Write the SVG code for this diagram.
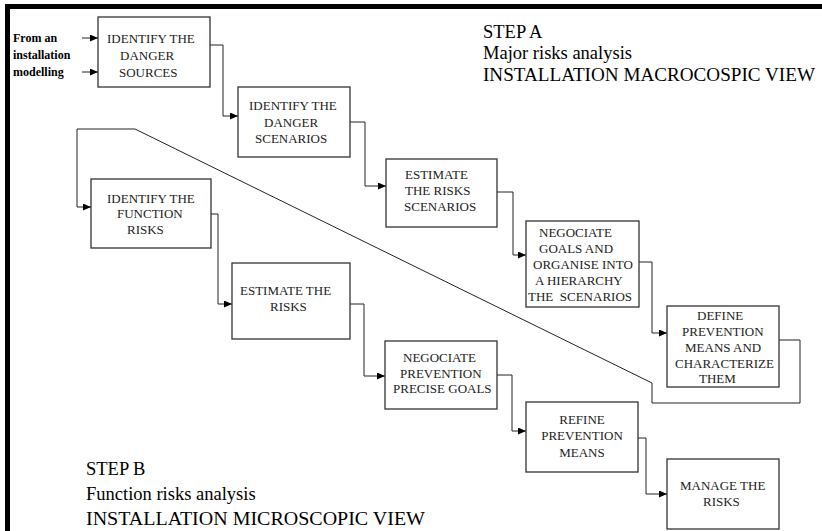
<svg xmlns="http://www.w3.org/2000/svg" width="822" height="531" viewBox="0 0 822 531">
<style>
.box{fill:#fff;stroke:#333;stroke-width:1.3}
.t{font-size:13px;fill:#222}
.s{font-size:18.5px;fill:#000}
.b{font-size:12px;font-weight:bold;fill:#000}
.c{fill:none;stroke:#222;stroke-width:1}
</style>
<defs>
<marker id="ah" markerWidth="9" markerHeight="8" refX="8" refY="3.5" orient="auto" markerUnits="userSpaceOnUse">
<path d="M0,0 L8,3.5 L0,7 z" fill="#000"/>
</marker>
</defs>
<rect x="0" y="0" width="822" height="531" fill="#fff"/>
<rect x="5" y="4" width="817" height="5" fill="#000"/>
<rect x="5" y="4" width="5" height="527" fill="#000"/>

<g font-family="'Liberation Serif', 'Times New Roman', 'DejaVu Serif', serif">
<g id="labels">
<text class="b" x="13" y="42">From an</text>
<text class="b" x="13" y="59">installation</text>
<text class="b" x="13" y="76">modelling</text>
<text class="s" x="483" y="38">STEP A</text>
<text class="s" x="483" y="59">Major risks analysis</text>
<text class="s" x="483" y="81" textLength="332" lengthAdjust="spacingAndGlyphs">INSTALLATION MACROCOSPIC VIEW</text>
<text class="s" x="86" y="475">STEP B</text>
<text class="s" x="86" y="500">Function risks analysis</text>
<text class="s" x="86" y="525" textLength="339" lengthAdjust="spacingAndGlyphs">INSTALLATION MICROSCOPIC VIEW</text>
</g>

<g id="connectors">
<path class="c" d="M82,38 H98" marker-end="url(#ah)"/>
<path class="c" d="M82,72 H98" marker-end="url(#ah)"/>
<path class="c" d="M210,45 H223 V116 H238" marker-end="url(#ah)"/>
<path class="c" d="M350,122 H365 V186 H386" marker-end="url(#ah)"/>
<path class="c" d="M497,192 H513 V255 H526" marker-end="url(#ah)"/>
<path class="c" d="M639,262 H652 V333 H667" marker-end="url(#ah)"/>
<path class="c" d="M779,340 H800 V403 H652 V383 L135,129 H77 V207 H91" marker-end="url(#ah)"/>
<path class="c" d="M211,214 H218 V304 H232" marker-end="url(#ah)"/>
<path class="c" d="M350,304 H364 V376 H385" marker-end="url(#ah)"/>
<path class="c" d="M497,375 H512 V431 H526" marker-end="url(#ah)"/>
<path class="c" d="M638,438 H646 V494 H667" marker-end="url(#ah)"/>
</g>

<g id="n1">
<rect class="box" x="98" y="17" width="112" height="70"/>
<text class="t" x="107" y="43">IDENTIFY THE</text>
<text class="t" x="120" y="60">DANGER</text>
<text class="t" x="119" y="77">SOURCES</text>
</g>
<g id="n2">
<rect class="box" x="238" y="87" width="112" height="70"/>
<text class="t" x="249" y="110">IDENTIFY THE</text>
<text class="t" x="264" y="127">DANGER</text>
<text class="t" x="255" y="143">SCENARIOS</text>
</g>
<g id="n3">
<rect class="box" x="386" y="159" width="111" height="68"/>
<text class="t" x="405" y="179">ESTIMATE</text>
<text class="t" x="405" y="195">THE RISKS</text>
<text class="t" x="404" y="211">SCENARIOS</text>
</g>
<g id="n4">
<rect class="box" x="526" y="221" width="113" height="86"/>
<text class="t" x="539" y="237">NEGOCIATE</text>
<text class="t" x="539" y="253">GOALS AND</text>
<text class="t" x="533" y="269">ORGANISE INTO</text>
<text class="t" x="535" y="285">A HIERARCHY</text>
<text class="t" x="528" y="301" xml:space="preserve">THE  SCENARIOS</text>
</g>
<g id="n5">
<rect class="box" x="667" y="306" width="112" height="81"/>
<text class="t" x="697" y="320">DEFINE</text>
<text class="t" x="682" y="336">PREVENTION</text>
<text class="t" x="685" y="352">MEANS AND</text>
<text class="t" x="675" y="368">CHARACTERIZE</text>
<text class="t" x="699" y="383">THEM</text>
</g>
<g id="n6">
<rect class="box" x="91" y="179" width="120" height="69"/>
<text class="t" x="107" y="203">IDENTIFY THE</text>
<text class="t" x="117" y="218">FUNCTION</text>
<text class="t" x="127" y="234">RISKS</text>
</g>
<g id="n7">
<rect class="box" x="232" y="263" width="118" height="76"/>
<text class="t" x="240" y="295">ESTIMATE THE</text>
<text class="t" x="270" y="311">RISKS</text>
</g>
<g id="n8">
<rect class="box" x="385" y="341" width="112" height="68"/>
<text class="t" x="403" y="362">NEGOCIATE</text>
<text class="t" x="400" y="378">PREVENTION</text>
<text class="t" x="393" y="393">PRECISE GOALS</text>
</g>
<g id="n9">
<rect class="box" x="526" y="402" width="112" height="70"/>
<text class="t" x="582" y="424" text-anchor="middle">REFINE</text>
<text class="t" x="582" y="440" text-anchor="middle">PREVENTION</text>
<text class="t" x="582" y="457" text-anchor="middle">MEANS</text>
</g>
<g id="n10">
<rect class="box" x="667" y="459" width="112" height="70"/>
<text class="t" x="680" y="490">MANAGE THE</text>
<text class="t" x="703" y="506">RISKS</text>
</g>
</g>
</svg>
